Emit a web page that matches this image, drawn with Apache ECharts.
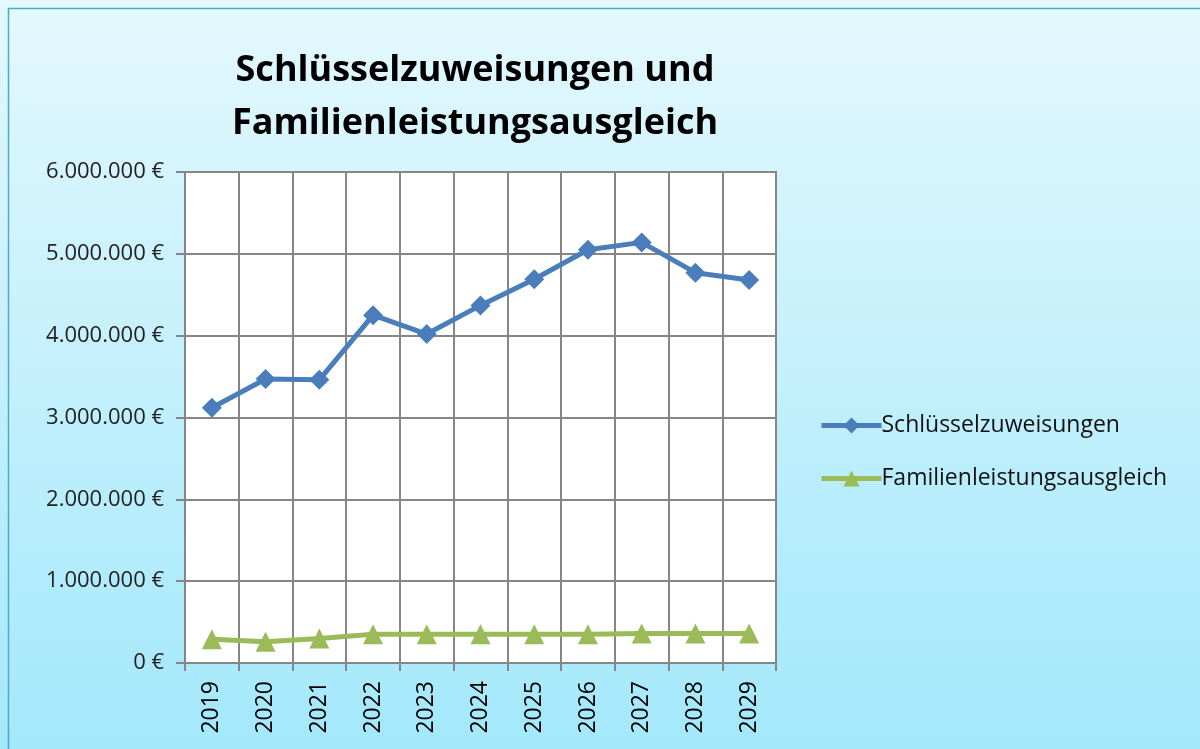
<!DOCTYPE html>
<html>
<head>
<meta charset="utf-8">
<script src="https://cdn.jsdelivr.net/npm/echarts@6/dist/echarts.min.js"></script>
<style>
  html, body { margin: 0; padding: 0; }
  #chart { width: 1200px; height: 749px; }
</style>
</head>
<body>
<div id="chart"></div>
<script>
// Daten
const years = ['2019', '2020', '2021', '2022', '2023', '2024', '2025', '2026', '2027', '2028', '2029']
const schluesselzuweisungen = [3120000, 3470000, 3460000, 4250000, 4020000, 4370000, 4690000, 5050000, 5140000, 4770000, 4680000]
const familienleistungsausgleich = [290000, 260000, 300000, 350000, 350000, 350000, 350000, 350000, 360000, 360000, 360000]
const yTicks = [0, 1000000, 2000000, 3000000, 4000000, 5000000, 6000000]

const fontFamily = '"Open Sans", "Noto Sans", sans-serif'

// 1000000 -> "1.000.000 €"
const euro = (v) => String(v).replace(/\B(?=(\d{3})+(?!\d))/g, '.') + ' €'

const chart = echarts.init(document.getElementById('chart'))

chart.setOption({
  animation: false,
  backgroundColor: {
    type: 'linear', x: 0, y: 0, x2: 0, y2: 1,
    colorStops: [
      { offset: 0, color: '#e4f8fd' },
      { offset: 1, color: '#a3e8fb' }
    ]
  },
  graphic: [{
    type: 'rect',
    shape: { x: 8.5, y: 8.5, width: 1200, height: 760 },
    style: { fill: 'none', stroke: '#4bacc6', lineWidth: 1.5 },
    silent: true
  }],
  title: {
    text: 'Schlüsselzuweisungen und\nFamilienleistungsausgleich',
    left: 470,
    top: 39,
    textAlign: 'center',
    textStyle: {
      fontFamily,
      fontSize: 36,
      fontWeight: 'bold',
      color: '#000',
      lineHeight: 53
    }
  },
  legend: {
    orient: 'vertical',
    left: 814,
    top: 409,
    itemGap: 30,
    itemWidth: 60,
    itemHeight: 20,
    lineStyle: { width: 5 },
    textStyle: { fontFamily, fontSize: 23, color: '#111', padding: [0, 0, 0, -5] },
    data: ['Schlüsselzuweisungen', 'Familienleistungsausgleich']
  },
  grid: {
    left: 185,
    right: 424,
    top: 172,
    bottom: 86,
    show: true,
    backgroundColor: '#fff',
    borderColor: '#868686',
    borderWidth: 2
  },
  xAxis: {
    type: 'category',
    data: years,
    boundaryGap: true,
    axisLine: { lineStyle: { color: '#868686', width: 2 } },
    axisTick: { show: true, length: 8, lineStyle: { color: '#868686', width: 2 } },
    axisLabel: {
      rotate: 90,
      fontFamily,
      fontSize: 23,
      color: '#000',
      margin: 18
    },
    splitLine: { show: true, lineStyle: { color: '#868686', width: 2 } }
  },
  yAxis: {
    type: 'value',
    min: yTicks[0],
    max: yTicks[yTicks.length - 1],
    interval: 1000000,
    axisLine: { show: true, lineStyle: { color: '#868686', width: 2 } },
    axisTick: { show: true, length: 9, lineStyle: { color: '#868686', width: 2 } },
    axisLabel: {
      formatter: euro,
      fontFamily,
      fontSize: 22,
      color: '#222',
      margin: 21
    },
    splitLine: { show: true, lineStyle: { color: '#868686', width: 2 } }
  },
  series: [
    {
      name: 'Schlüsselzuweisungen',
      type: 'line',
      data: schluesselzuweisungen,
      symbol: 'diamond',
      symbolSize: 20,
      itemStyle: { color: '#4a7ebb' },
      lineStyle: { color: '#4a7ebb', width: 5 }
    },
    {
      name: 'Familienleistungsausgleich',
      type: 'line',
      data: familienleistungsausgleich,
      symbol: 'triangle',
      symbolSize: 20,
      itemStyle: { color: '#9bbb59' },
      lineStyle: { color: '#9bbb59', width: 5 }
    }
  ]
})
</script>
</body>
</html>
